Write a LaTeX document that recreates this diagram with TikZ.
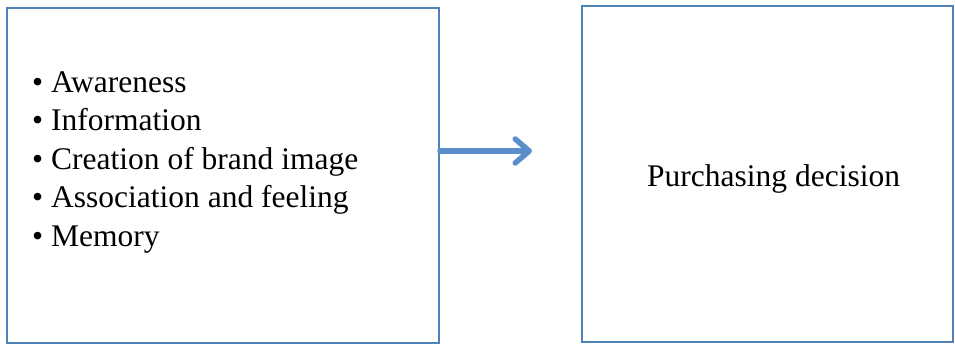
\documentclass[tikz,border=0pt]{standalone}
\usepackage{fontspec}
\setmainfont{Liberation Serif}
\usetikzlibrary{arrows.meta}
\definecolor{boxblue}{RGB}{79,129,189}
\definecolor{arrowblue}{RGB}{91,143,203}
\tikzset{
  panel/.style={draw=boxblue, line width=2pt, fill=white, inner sep=0pt, anchor=north west},
  item/.style={anchor=base west, inner sep=0pt, font=\fontsize{31.5}{38}\selectfont},
  link/.style={draw=arrowblue, line width=5.5pt, line cap=round, -{Straight Barb[length=14pt, width=24pt, round]}}
}
\begin{document}
\begin{tikzpicture}[x=1pt, y=-1pt]
\useasboundingbox (0,0) rectangle (955,344);
% boxes
\node[panel, minimum width=432pt, minimum height=335pt] (left) at (6,7) {};
\node[panel, minimum width=371pt, minimum height=336pt] (right) at (581,5) {};
% list text
\foreach \t/\y [count=\i] in {Awareness/92.5, Information/131, Creation of brand image/169.5, Association and feeling/208, Memory/246.5}{
  \node[item] (i\i) at (32,\y) {\textbullet\hspace{8pt}\t};
}
\node[item] (p) at (647,187) {Purchasing decision};
% arrow
\coordinate (tip) at (532,151);
\draw[link] (left.east |- tip) -- (tip);
\end{tikzpicture}
\end{document}
